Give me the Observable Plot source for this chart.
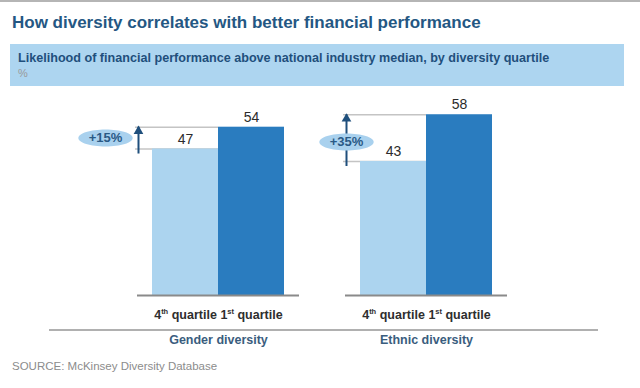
<!DOCTYPE html>
<html>
<head>
<meta charset="utf-8">
<script src="https://cdn.jsdelivr.net/npm/d3@7"></script>
<script src="https://cdn.jsdelivr.net/npm/@observablehq/plot@0.6"></script>
<style>
  html, body { margin: 0; padding: 0; background: #fff; }
  #wrap { position: relative; width: 640px; height: 388px; overflow: hidden; background: #fff;
          font-family: "Liberation Sans", Arial, sans-serif; }
  #topline { position: absolute; left: 0; top: 0; width: 640px; height: 2px; background: #b5b5b5; }
  #title { position: absolute; left: 12px; top: 13px; font-size: 17px; line-height: 20px; font-weight: bold; color: #245783; white-space: nowrap; }
  #box { position: absolute; left: 10px; top: 44px; width: 614px; height: 42px; background: #add5f0; }
  #subtitle { position: absolute; left: 18px; top: 51px; font-size: 12.6px; line-height: 14px; font-weight: bold; color: #1f4f7c; white-space: nowrap; }
  #unit { position: absolute; left: 18px; top: 66px; font-size: 11px; line-height: 14px; color: #9a9a9a; }
  #chart { position: absolute; left: 0; top: 88px; }
  #groupline { position: absolute; left: 49px; top: 329px; width: 549px; height: 2px; background: #b0b0b0; }
  #source { position: absolute; left: 12px; top: 359px; font-size: 11.5px; line-height: 14px; color: #8c8c8c; white-space: nowrap; }
</style>
</head>
<body>
<div id="wrap">
  <div id="topline"></div>
  <div id="title">How diversity correlates with better financial performance</div>
  <div id="box"></div>
  <div id="subtitle">Likelihood of financial performance above national industry median, by diversity quartile</div>
  <div id="unit">%</div>
  <div id="chart"></div>
  <div id="groupline"></div>
  <div id="source">SOURCE: McKinsey Diversity Database</div>
</div>
<script>
// ---- data ----
const groups = ["Gender diversity", "Ethnic diversity"];
const quartiles = ["4th quartile", "1st quartile"];
const genderValues = [47, 54];
const ethnicValues = [43, 58];
const upliftLabels = ["+15%", "+35%"];
const barColors = ["#acd4ef", "#2a7cbf"];

// ---- tables built from the arrays ----
const seriesByGroup = [genderValues, ethnicValues];
const bars = groups.flatMap((g, gi) =>
  quartiles.map((q, qi) => ({group: g, quartile: q, value: seriesByGroup[gi][qi]}))
);
const uplift = groups.map((g, gi) => ({
  group: g,
  from: quartiles[0],
  to: quartiles[1],
  lo: seriesByGroup[gi][0],
  hi: seriesByGroup[gi][1],
  label: upliftLabels[gi]
}));

const ellipse = {
  draw(ctx, size) {
    const ry = Math.sqrt(size / Math.PI), rx = ry * 3.2, k = 0.5523;
    ctx.moveTo(rx, 0);
    ctx.bezierCurveTo(rx, ry * k, rx * k, ry, 0, ry);
    ctx.bezierCurveTo(-rx * k, ry, -rx, ry * k, -rx, 0);
    ctx.bezierCurveTo(-rx, -ry * k, -rx * k, -ry, 0, -ry);
    ctx.bezierCurveTo(rx * k, -ry, rx, -ry * k, rx, 0);
    ctx.closePath();
  }
};

const mid = d => (d.lo + d.hi) / 2;
const first = uplift.filter(d => d.group === groups[0]);
const second = uplift.filter(d => d.group === groups[1]);
const arrowColor = "#1f4f7c";

const chart = Plot.plot({
  width: 640,
  height: 267,
  marginLeft: 136,
  marginRight: 133,
  marginTop: 20,
  marginBottom: 60,
  style: {fontFamily: "'Liberation Sans', Arial, sans-serif", background: "transparent", overflow: "visible"},
  fx: {domain: groups, paddingInner: 0.223, paddingOuter: 0, label: null},
  x: {domain: quartiles, paddingInner: 0, paddingOuter: 0.21, label: null},
  y: {domain: [0, 60], axis: null},
  color: {domain: quartiles, range: barColors},
  marks: [
    // guide lines from the left of the group to the 1st-quartile bar (partly hidden under the light bar)
    Plot.ruleY(uplift, {fx: "group", y: "lo", x1: "from", x2: "from", insetLeft: -17, stroke: "#c4c4c4", strokeWidth: 1.5}),
    Plot.ruleY(uplift, {fx: "group", y: "hi", x1: "from", x2: "from", insetLeft: -17, stroke: "#c4c4c4", strokeWidth: 1.5}),
    Plot.barY(bars, {fx: "group", x: "quartile", y: "value", fill: "quartile"}),
    Plot.ruleY([0], {stroke: "#8a8a8a", strokeWidth: 2}),
    Plot.text(bars, {fx: "group", x: "quartile", y: "value", text: "value", dy: -10, fontSize: 14, fill: "#2b2b2b"}),
    // arrows: shaft + filled head
    Plot.ruleX(uplift, {fx: "group", x: "from", y1: "lo", y2: "hi", dx: -47, insetTop: 5, stroke: arrowColor, strokeWidth: 2}),
    Plot.dot(uplift, {fx: "group", x: "from", y: "hi", dx: -47, dy: 4, r: 3.6, symbol: "triangle", fill: arrowColor, stroke: "none"}),
    // bubbles
    Plot.dot(first, {fx: "group", x: "from", y: mid, dx: -80, r: 8.5, symbol: ellipse, fill: "#a9d1ee", stroke: "none"}),
    Plot.dot(second, {fx: "group", x: "from", y: mid, dx: -47, dy: 4, r: 8.5, symbol: ellipse, fill: "#a9d1ee", stroke: "none"}),
    Plot.text(first, {fx: "group", x: "from", y: mid, dx: -80, text: "label", fontSize: 13, fontWeight: "bold", fill: "#2a5a86"}),
    Plot.text(second, {fx: "group", x: "from", y: mid, dx: -47, dy: 4, text: "label", fontSize: 13, fontWeight: "bold", fill: "#2a5a86"}),
    Plot.axisX({tickSize: 0, tickPadding: 15, fontSize: 12.5, fontWeight: "bold", fill: "#2e2e2e", label: null}),
    Plot.axisFx({anchor: "bottom", tickSize: 0, tickPadding: 40, fontSize: 12.5, fontWeight: "bold", fill: "#3a5d7e", label: null})
  ]
});
document.getElementById("chart").appendChild(chart);

// superscripts for ordinal suffixes in the quartile tick labels
d3.select(chart).selectAll("g[aria-label='x-axis tick label'] text").each(function () {
  const t = this.textContent;
  const m = t.match(/^(\d+)(st|nd|rd|th)(.*)$/);
  if (!m) return;
  const sel = d3.select(this).text(null);
  sel.append("tspan").text(m[1]);
  sel.append("tspan").attr("dy", -5).attr("font-size", 7.5).text(m[2]);
  sel.append("tspan").attr("dy", 5).text(m[3]);
});
</script>
</body>
</html>
